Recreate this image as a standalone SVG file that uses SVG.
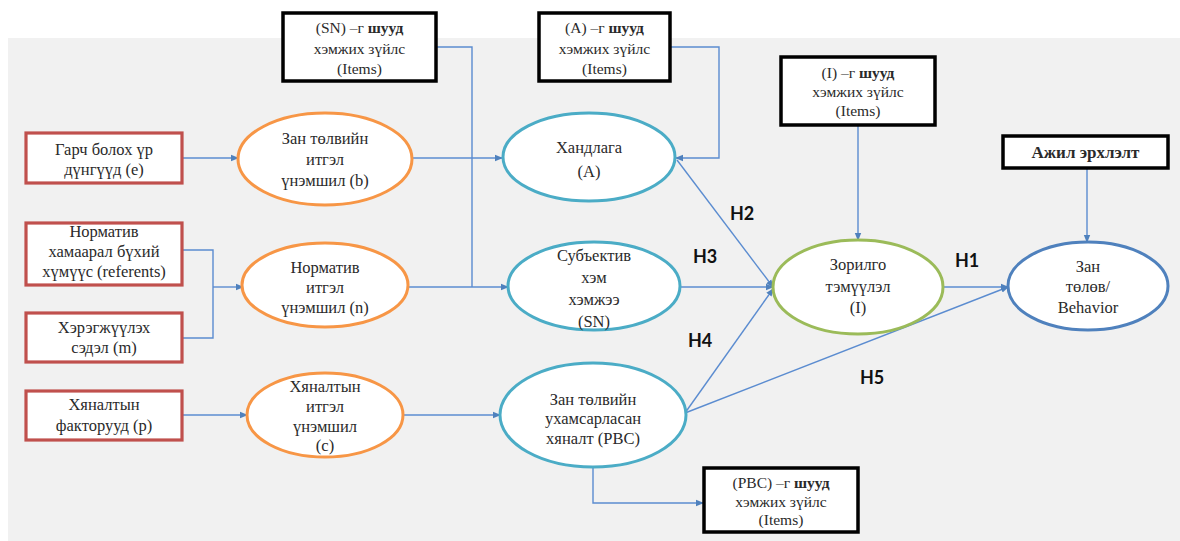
<svg xmlns="http://www.w3.org/2000/svg" width="1180" height="541" viewBox="0 0 1180 541">
<defs>
<marker id="arr" markerWidth="8" markerHeight="8" refX="7" refY="4" orient="auto" markerUnits="userSpaceOnUse">
<path d="M0,0.8 L8,4 L0,7.2 Z" fill="#4f81bd"/>
</marker>
<style>
.t{font-family:"Liberation Serif","DejaVu Serif",serif;font-size:16.5px;fill:#2a2a2a;text-anchor:middle}
.s{font-size:15.5px}
.b{font-weight:bold}
.h{font-family:Lato,"Liberation Sans",sans-serif;font-weight:bold;font-size:18px;fill:#111}
.box{fill:#fff;stroke:#000;stroke-width:3.5}
.red{fill:#fff;stroke:#c0504d;stroke-width:3.2}
.or{fill:#fff;stroke:#f79646;stroke-width:3}
.tl{fill:#fff;stroke:#4bacc6;stroke-width:3}
.gr{fill:#fff;stroke:#9bbb59;stroke-width:3}
.bl{fill:#fff;stroke:#4f81bd;stroke-width:3}
.c{fill:none;stroke:#5b8cd0;stroke-width:1.4}
.a{marker-end:url(#arr)}
</style>
</defs>
<rect x="0" y="0" width="1180" height="541" fill="#fff"/>
<rect x="8" y="38" width="1172" height="503" fill="#f1f1f1"/>

<g id="connectors">
<path class="c a" d="M182,158 H238"/>
<path class="c a" d="M412,158 H502"/>
<path class="c" d="M182,250 H213 V338 H182"/>
<path class="c a" d="M213,287 H243"/>
<path class="c a" d="M408,287 H508"/>
<path class="c" d="M436,47 H472 V287"/>
<path class="c a" d="M670,47 H719 V158 H676"/>
<path class="c a" d="M182,415 H247"/>
<path class="c a" d="M403,415 H500"/>
<path class="c a" d="M593,467 V503 H703"/>
<path class="c a" d="M677,160 L773,287"/>
<path class="c a" d="M680,287 H773"/>
<path class="c a" d="M685,413 L773,289"/>
<path class="c a" d="M685,413 L1008,287"/>
<path class="c a" d="M943,287 H1008"/>
<path class="c a" d="M858,125 V240"/>
<path class="c a" d="M1087,168 V242"/>
</g>

<g id="labels">
<text class="h" x="730" y="220">H2</text>
<text class="h" x="693" y="263">H3</text>
<text class="h" x="688" y="347">H4</text>
<text class="h" x="860" y="384">H5</text>
<text class="h" x="955" y="267">H1</text>
</g>

<g id="sn-items">
<rect class="box" x="283" y="13" width="153" height="68"/>
<text class="t s" x="359.5" y="33">(SN) –г <tspan class="b">шууд</tspan></text>
<text class="t s" x="359.5" y="54">хэмжих зүйлс</text>
<text class="t s" x="359.5" y="74">(Items)</text>
</g>
<g id="a-items">
<rect class="box" x="539" y="13" width="131" height="68"/>
<text class="t s" x="604.5" y="33">(A) –г <tspan class="b">шууд</tspan></text>
<text class="t s" x="604.5" y="54">хэмжих зүйлс</text>
<text class="t s" x="604.5" y="74">(Items)</text>
</g>
<g id="i-items">
<rect class="box" x="781" y="57" width="154" height="68"/>
<text class="t s" x="858" y="78">(I) –г <tspan class="b">шууд</tspan></text>
<text class="t s" x="858" y="97">хэмжих зүйлс</text>
<text class="t s" x="858" y="116">(Items)</text>
</g>
<g id="employment">
<rect class="box" x="1003" y="136" width="165" height="32"/>
<text class="t b" x="1085.5" y="158" style="font-size:17px">Ажил эрхлэлт</text>
</g>
<g id="pbc-items">
<rect class="box" x="704" y="468" width="154" height="64"/>
<text class="t s" x="781" y="488">(PBC) –г <tspan class="b">шууд</tspan></text>
<text class="t s" x="781" y="507">хэмжих зүйлс</text>
<text class="t s" x="781" y="525">(Items)</text>
</g>

<g id="outcomes">
<rect class="red" x="26" y="133" width="156" height="50"/>
<text class="t" x="104" y="155">Гарч болох үр</text>
<text class="t" x="104" y="175">дүнгүүд (e)</text>
</g>
<g id="referents">
<rect class="red" x="26" y="223" width="156" height="62"/>
<text class="t" x="104" y="237">Норматив</text>
<text class="t" x="104" y="257">хамаарал бүхий</text>
<text class="t" x="104" y="277">хүмүүс (referents)</text>
</g>
<g id="motivation">
<rect class="red" x="26" y="313" width="156" height="49"/>
<text class="t" x="104" y="333">Хэрэгжүүлэх</text>
<text class="t" x="104" y="353">сэдэл (m)</text>
</g>
<g id="control-factors">
<rect class="red" x="26" y="391" width="156" height="49"/>
<text class="t" x="104" y="410">Хяналтын</text>
<text class="t" x="104" y="431">факторууд (p)</text>
</g>

<g id="belief-b">
<ellipse class="or" cx="325" cy="159" rx="87" ry="46"/>
<text class="t" x="325" y="144">Зан төлвийн</text>
<text class="t" x="325" y="165">итгэл</text>
<text class="t" x="325" y="186">үнэмшил (b)</text>
</g>
<g id="belief-n">
<ellipse class="or" cx="325" cy="285" rx="83" ry="42"/>
<text class="t" x="325" y="273">Норматив</text>
<text class="t" x="325" y="293">итгэл</text>
<text class="t" x="325" y="313">үнэмшил (n)</text>
</g>
<g id="belief-c">
<ellipse class="or" cx="325" cy="415" rx="78" ry="42"/>
<text class="t" x="325" y="392">Хяналтын</text>
<text class="t" x="325" y="412">итгэл</text>
<text class="t" x="325" y="432">үнэмшил</text>
<text class="t" x="325" y="451">(c)</text>
</g>

<g id="attitude">
<ellipse class="tl" cx="589" cy="157" rx="86" ry="44"/>
<text class="t" x="589" y="153">Хандлага</text>
<text class="t" x="589" y="177">(А)</text>
</g>
<g id="subjective-norm">
<ellipse class="tl" cx="594" cy="286" rx="86" ry="44"/>
<text class="t" x="594" y="261">Субъектив</text>
<text class="t" x="594" y="283">хэм</text>
<text class="t" x="594" y="305">хэмжээ</text>
<text class="t" x="594" y="327">(SN)</text>
</g>
<g id="pbc">
<ellipse class="tl" cx="593" cy="415" rx="93" ry="52"/>
<text class="t" x="593" y="405">Зан төлвийн</text>
<text class="t" x="593" y="424">ухамсарласан</text>
<text class="t" x="593" y="444">хяналт (PBC)</text>
</g>

<g id="intention">
<ellipse class="gr" cx="858" cy="287" rx="85" ry="47"/>
<text class="t" x="858" y="270">Зорилго</text>
<text class="t" x="858" y="292">тэмүүлэл</text>
<text class="t" x="858" y="313">(I)</text>
</g>
<g id="behavior">
<ellipse class="bl" cx="1088" cy="286" rx="80" ry="44"/>
<text class="t" x="1088" y="272">Зан</text>
<text class="t" x="1088" y="292">төлөв/</text>
<text class="t" x="1088" y="313">Behavior</text>
</g>
</svg>
